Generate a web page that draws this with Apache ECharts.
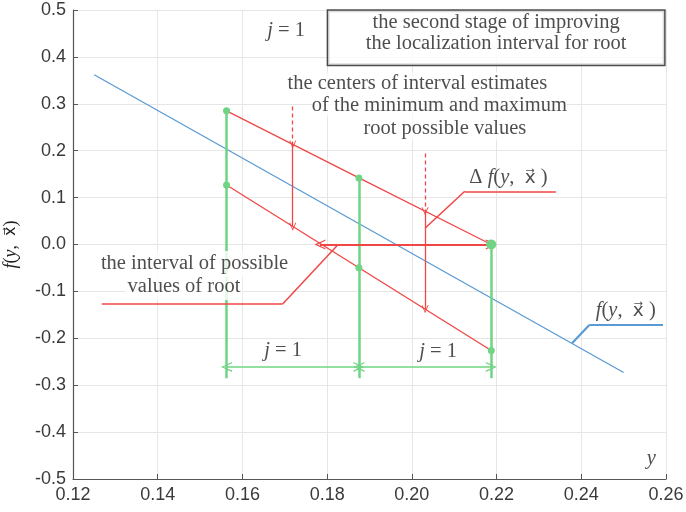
<!DOCTYPE html>
<html>
<head>
<meta charset="utf-8">
<script src="https://cdn.jsdelivr.net/npm/echarts@6/dist/echarts.min.js"></script>
<style>
  html, body { margin: 0; padding: 0; background: #fff; }
  #chart { width: 686px; height: 512px; }
</style>
</head>
<body>
<div id="chart"></div>
<script>
// axis ranges [min, max, step]
const xRange = [0.12, 0.26, 0.02];
const yRange = [-0.5, 0.5, 0.1];

// the function f(y, x) itself
const fLineY = [0.125, 0.25];
const fLineF = [0.362, -0.273];

// subdivision points j = 1
const stepY = [0.15625, 0.1875, 0.21875];
const upperF = [0.285, 0.142, 0.0];
const lowerF = [0.127, -0.0495, -0.226];

// centers of the interval estimates
const centerY = [0.171875, 0.203125];
const centerUpperF = [0.213, 0.071];
const centerLowerF = [0.038, -0.138];
const dashTopF = [0.294, 0.194];

// interval of possible root values (red double arrow)
const rootArrowY = [0.1783, 0.21875];
const rootArrowF = 0.0;

// green dimension line
const dimF = -0.261;
const guideBottomF = -0.285;

// leader lines
const deltaLeaderY = [0.2031, 0.2125, 0.234];
const deltaLeaderF = [0.0346, 0.1134, 0.1134];
const rootLeaderY = [0.1268, 0.1695, 0.1826];
const rootLeaderF = [-0.127, -0.127, 0.0];
const fLeaderY = [0.2378, 0.2419, 0.2593];
const fLeaderF = [-0.2107, -0.1716, -0.1716];

const RED = '#f04646';
const GREEN = '#6fd483';
const BLUE = '#5a9bd4';
const SERIF = '"Liberation Serif", "DejaVu Serif", serif';
const SANS = '"Liberation Sans", Arial, sans-serif';

// open arrow head, tip up (rotated along the line by echarts)
const ARROW = 'path://M0,12 L6,0 L12,12 L10.4,12 L6,3 L1.6,12 Z';

const zip = (a, b) => a.map((v, i) => [v, b[i]]);

function seg(p1, p2, color, width, opts) {
  opts = opts || {};
  const ls = { color: color, width: width, type: opts.dash ? [4, 3] : 'solid' };
  return [
    { coord: p1, symbol: opts.from ? ARROW : 'none', symbolSize: opts.size || [8, 10], lineStyle: ls },
    { coord: p2, symbol: opts.to ? ARROW : 'none', symbolSize: opts.size || [8, 10], lineStyle: ls }
  ];
}

function poly(ys, fs, color, width) {
  const out = [];
  for (let i = 0; i < ys.length - 1; i++) {
    out.push(seg([ys[i], fs[i]], [ys[i + 1], fs[i + 1]], color, width));
  }
  return out;
}

const guides = [];
// green verticals
guides.push(seg([stepY[0], upperF[0]], [stepY[0], guideBottomF], GREEN, 2.5));
guides.push(seg([stepY[1], upperF[1]], [stepY[1], guideBottomF], GREEN, 2.5));
guides.push(seg([stepY[2], upperF[2]], [stepY[2], guideBottomF], GREEN, 2.5));
// green dimension arrows
guides.push(seg([stepY[0], dimF], [stepY[1], dimF], GREEN, 1.5, { from: true, to: true, size: [10, 11] }));
guides.push(seg([stepY[1], dimF], [stepY[2], dimF], GREEN, 1.5, { from: true, to: true, size: [10, 11] }));
// red centre markers
centerY.forEach((y, i) => {
  guides.push(seg([y, dashTopF[i]], [y, centerUpperF[i]], RED, 1.3, { dash: true, to: true, size: [7, 8] }));
  guides.push(seg([y, centerUpperF[i]], [y, centerLowerF[i]], RED, 1.3, { to: true, size: [7, 8] }));
});
// red double arrow at f = 0
guides.push(seg([rootArrowY[0], rootArrowF], [rootArrowY[1], rootArrowF], RED, 2, { from: true, to: true, size: [10, 11] }));
// leaders
poly(deltaLeaderY, deltaLeaderF, RED, 1.5).forEach(s => guides.push(s));
poly(rootLeaderY, rootLeaderF, RED, 1.5).forEach(s => guides.push(s));
poly(fLeaderY, fLeaderF, BLUE, 2.2).forEach(s => guides.push(s));

const dotY = [stepY[0], stepY[0], stepY[1], stepY[1], stepY[2], stepY[2]];
const dotF = [upperF[0], lowerF[0], upperF[1], lowerF[1], upperF[2], lowerF[2]];
const dotSize = [7, 7, 7, 7, 10, 7];

const FS = 20.5;
const rich = {
  i: { fontFamily: SERIF, fontStyle: 'italic', fontSize: FS, color: '#222' },
  n: { fontFamily: SERIF, fontSize: FS, color: '#222' },
  v: { fontFamily: '"DejaVu Sans"', fontSize: FS - 2, color: '#222' },
  yi: { fontFamily: SERIF, fontStyle: 'italic', fontSize: 18, color: '#222' },
  yn: { fontFamily: SERIF, fontSize: 18, color: '#222' },
  yv: { fontFamily: '"DejaVu Sans"', fontSize: 16, color: '#222' }
};

function note(x, f, text, extra) {
  return {
    value: [x, f],
    label: Object.assign({
      show: true, position: 'inside', formatter: text,
      fontFamily: SERIF, fontSize: FS, color: '#222', lineHeight: 22, rich: rich
    }, extra || {})
  };
}

const notes = [
  note(0.1703, 0.455, '{i|j}{n| = 1}'),
  note(0.2199, 0.441, 'the second stage of improving\nthe localization interval for root', {
    backgroundColor: '#fff', borderColor: '#222', borderWidth: 1.5, lineHeight: 21,
    width: 334, height: 52, align: 'center', verticalAlign: 'middle', padding: [1, 1]
  }),
  note(0.2013, 0.3435, 'the centers of interval estimates', { backgroundColor: '#fff' }),
  note(0.2065, 0.2966, 'of the minimum and maximum', { backgroundColor: '#fff' }),
  note(0.2078, 0.2475, 'root possible values', { backgroundColor: '#fff' }),
  note(0.2228, 0.1418, '{n|\u0394 }{i|f}{n|(}{i|y}{n|,  }{v|x\u20D7}{n| )}'),
  note(0.1487, -0.0416, 'the interval of possible', { backgroundColor: '#fff', padding: [2, 2, 2, 2] }),
  note(0.1462, -0.0906, 'values of root', { backgroundColor: '#fff', padding: [2, 2, 2, 2] }),
  note(0.1696, -0.227, '{i|j}{n| = 1}'),
  note(0.2062, -0.229, '{i|j}{n| = 1}'),
  note(0.2505, -0.1418, '{i|f}{n|(}{i|y}{n|,  }{v|x\u20D7}{n| )}'),
  note(0.2565, -0.457, '{i|y}')
];

const option = {
  animation: false,
  backgroundColor: '#fff',
  grid: { left: 73, right: 20, top: 10, bottom: 33, outerBoundsMode: 'none', containLabel: false },
  xAxis: {
    type: 'value', min: xRange[0], max: xRange[1], interval: xRange[2],
    axisLine: { onZero: false, lineStyle: { color: '#555', width: 1.2 } },
    axisTick: { inside: true, length: 5, lineStyle: { color: '#555' } },
    axisLabel: {
      formatter: v => v.toFixed(2), color: '#3a3a3a', fontSize: 18,
      fontFamily: SANS, margin: 7
    },
    splitLine: { show: true, lineStyle: { color: '#e6e6e6' } }
  },
  yAxis: {
    type: 'value', min: yRange[0], max: yRange[1], interval: yRange[2],
    name: '{yi|f}{yn|(}{yi|y}{yn|,  }{yv|x\u20D7}{yn|)}',
    nameLocation: 'middle', nameRotate: 90, nameGap: 53,
    nameTextStyle: { rich: rich },
    axisLine: { show: true, onZero: false, lineStyle: { color: '#555', width: 1.2 } },
    axisTick: { show: true, inside: true, length: 5, lineStyle: { color: '#555' } },
    axisLabel: {
      formatter: v => v.toFixed(1), color: '#3a3a3a', fontSize: 18,
      fontFamily: SANS, margin: 7
    },
    splitLine: { show: true, lineStyle: { color: '#e6e6e6' } }
  },
  series: [
    {
      name: 'f', type: 'line', data: zip(fLineY, fLineF), symbol: 'none',
      lineStyle: { color: BLUE, width: 1.3 }, z: 3
    },
    {
      name: 'upper', type: 'line', data: zip(stepY, upperF), symbol: 'none',
      lineStyle: { color: RED, width: 1.3 }, z: 3
    },
    {
      name: 'lower', type: 'line', data: zip(stepY, lowerF), symbol: 'none',
      lineStyle: { color: RED, width: 1.3 }, z: 3
    },
    {
      name: 'guides', type: 'line', data: [], z: 4,
      markLine: { silent: true, animation: false, label: { show: false }, data: guides }
    },
    {
      name: 'dots', type: 'scatter', z: 5,
      data: zip(dotY, dotF).map((p, i) => ({ value: p, symbolSize: dotSize[i] })),
      itemStyle: { color: GREEN, opacity: 1 }
    },
    {
      name: 'notes', type: 'scatter', z: 10, symbolSize: 0, silent: true,
      data: notes
    }
  ]
};

const chart = echarts.init(document.getElementById('chart'), null, { renderer: 'canvas' });
chart.setOption(option);
</script>
</body>
</html>
